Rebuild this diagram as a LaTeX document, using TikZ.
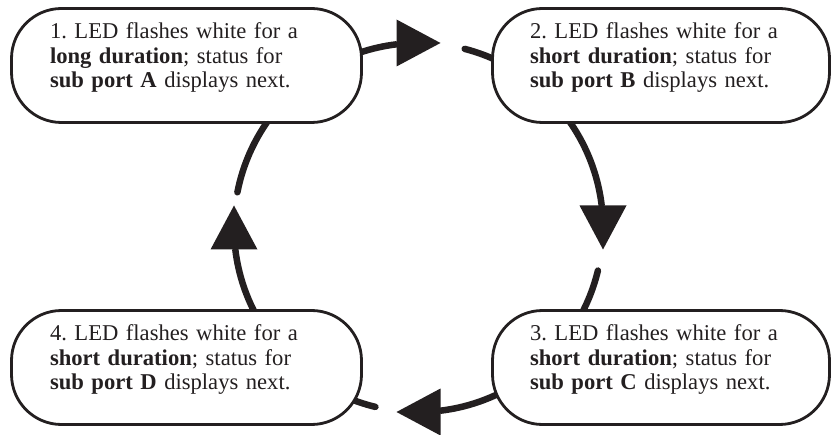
\documentclass[tikz,border=0pt]{standalone}
\usepackage{fontspec}
\setmainfont{Liberation Serif}
\usetikzlibrary{calc,backgrounds}
\definecolor{ink}{RGB}{35,31,32}
\frenchspacing
\begin{document}
\begin{tikzpicture}[x=1pt,y=1pt,
  box/.style={draw=ink, line width=2.8pt, fill=white, rounded corners=50pt,
    minimum height=114pt, inner sep=0pt, align=left, text=ink,
    font=\fontsize{22.6}{24.5}\selectfont},
  wide/.style={minimum width=350pt, text width=273pt},
  narrow/.style={minimum width=337pt, text width=262pt},
  conn/.style={draw=ink, line width=6.5pt, line cap=round},
  head/.style={fill=ink}
]
\useasboundingbox (0,0) rectangle (832,434);
\def\R{184.5}
\def\dropstrut{\rule[-20.5pt]{0pt}{0pt}}
\coordinate (c) at (418.5,206.5);

\node[box,wide]   (b1) at (186.5,368.5) {1. LED flashes white for a\\ \textbf{long duration}; status for\\ \textbf{sub port A} displays next.\dropstrut};
\node[box,narrow] (b2) at (661,368.5)   {2. LED flashes white for a\\ \textbf{short duration}; status for\\ \textbf{sub port B} displays next.\dropstrut};
\node[box,narrow] (b3) at (661,66.5)    {3. LED flashes white for a\\ \textbf{short duration}; status for\\ \textbf{sub port C} displays next.\dropstrut};
\node[box,wide]   (b4) at (186.5,66.5)  {4. LED flashes white for a\\ \textbf{short duration}; status for\\ \textbf{sub port D} displays next.\dropstrut};

\coordinate (hA) at ($(c)+(90:\R)$);
\coordinate (hB) at ($(c)+(0:\R)$);
\coordinate (hC) at ($(c)+(-90:\R)$);
\coordinate (hD) at ($(c)+(180:\R)$);

\begin{scope}[on background layer]
  % box 1 -> arrow A, then on to box 2
  \draw[conn] ($(c)+(120:\R)$) arc[start angle=120, end angle=97, radius=\R];
  \draw[conn] ($(c)+(75.5:\R)$) arc[start angle=75.5, end angle=60, radius=\R];
  % box 2 -> arrow B, then on to box 3
  \draw[conn] ($(c)+(40:\R)$) arc[start angle=40, end angle=7, radius=\R];
  \draw[conn] ($(c)+(-13.5:\R)$) arc[start angle=-13.5, end angle=-35, radius=\R];
  % box 3 -> arrow C, then on to box 4
  \draw[conn] ($(c)+(-55:\R)$) arc[start angle=-55, end angle=-83, radius=\R];
  \draw[conn] ($(c)+(-103.5:\R)$) arc[start angle=-103.5, end angle=-125, radius=\R];
  % box 4 -> arrow D, then on to box 1
  \draw[conn] ($(c)+(-150:\R)$) arc[start angle=-150, end angle=-173, radius=\R];
  \draw[conn] ($(c)+(169:\R)$) arc[start angle=169, end angle=140, radius=\R];
\end{scope}

\fill[head, shift={(hA)}]             (22,0) -- (-22,23.5) -- (-22,-23.5) -- cycle;
\fill[head, shift={(hB)}, rotate=-90] (22,0) -- (-22,23.5) -- (-22,-23.5) -- cycle;
\fill[head, shift={(hC)}, rotate=180] (22,0) -- (-22,23.5) -- (-22,-23.5) -- cycle;
\fill[head, shift={(hD)}, rotate=90]  (22,0) -- (-22,23.5) -- (-22,-23.5) -- cycle;
\end{tikzpicture}
\end{document}
